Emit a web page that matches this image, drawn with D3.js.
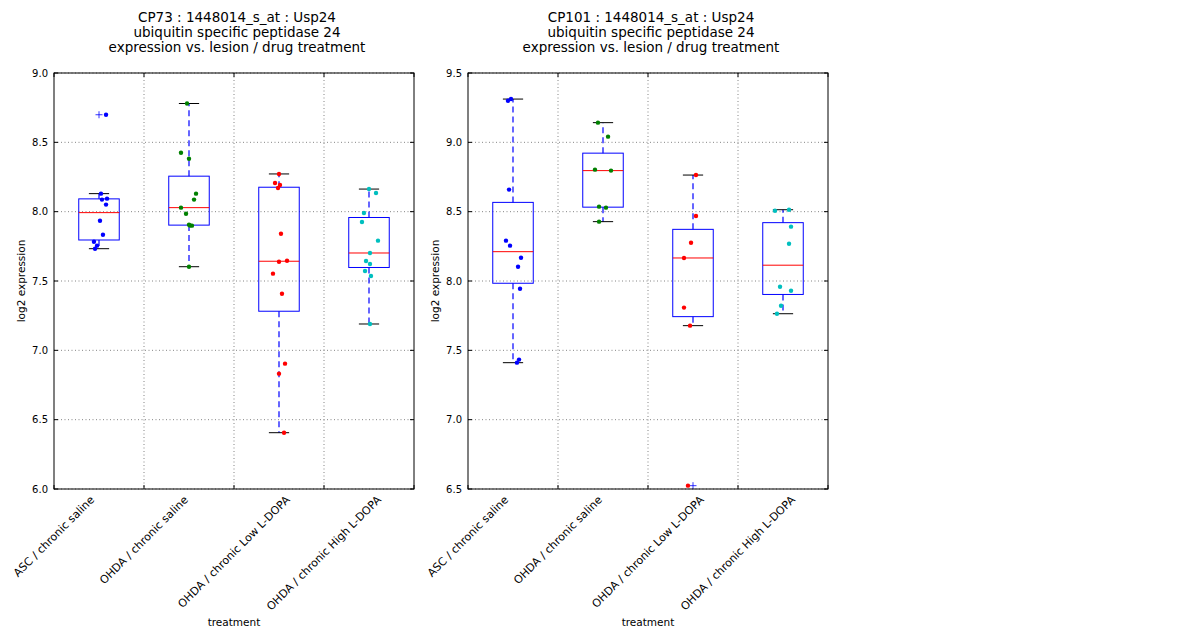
<!DOCTYPE html>
<html>
<head>
<meta charset="utf-8">
<script src="https://cdn.jsdelivr.net/npm/d3@7"></script>
<style>
  body { margin: 0; background: #fff; }
  text { font-family: "DejaVu Sans", sans-serif; }
</style>
</head>
<body>
<div id="chart"></div>
<script>
// treatment groups (x categories)
var categories = ["ASC / chronic saline", "OHDA / chronic saline",
                  "OHDA / chronic Low L-DOPA", "OHDA / chronic High L-DOPA"];
var groupColors = ["#0000ff", "#008000", "#ff0000", "#00bfbf"];

// CP73 log2 expression per group
var cp73Values = [
  [8.699, 8.130, 8.094, 8.087, 8.051, 7.935, 7.834, 7.783, 7.755, 7.733],
  [8.780, 8.425, 8.382, 8.130, 8.087, 8.029, 7.985, 7.906, 7.899, 7.900, 7.603],
  [8.272, 8.207, 8.192, 8.171, 7.841, 7.639, 7.646, 7.553, 7.408, 6.904, 6.832, 6.406],
  [8.163, 8.135, 7.990, 7.926, 7.791, 7.702, 7.644, 7.623, 7.572, 7.536, 7.190]
];
// horizontal jitter of the dots (category units)
var cp73Jitter = [
  [0.078, 0.022, 0.089, 0.033, 0.078, 0.011, 0.044, -0.056, -0.022, -0.044],
  [-0.022, -0.089, 0, 0.078, 0.056, -0.089, -0.033, 0, 0.033, 0.011, 0],
  [0, -0.044, 0.011, -0.011, 0.022, 0, 0.089, -0.067, 0.033, 0.067, 0, 0.056],
  [0, 0.078, -0.056, -0.078, 0.1, 0.011, -0.033, 0.011, -0.044, 0.022, 0.011]
];

// CP101 log2 expression per group
var cp101Values = [
  [9.300, 9.312, 8.659, 8.291, 8.255, 8.168, 8.103, 7.944, 7.433, 7.411],
  [9.142, 9.041, 8.803, 8.796, 8.536, 8.529, 8.428],
  [8.764, 8.469, 8.276, 8.166, 7.808, 7.678, 6.524],
  [8.507, 8.514, 8.392, 8.269, 7.959, 7.930, 7.822, 7.764]
];
var cp101Jitter = [
  [-0.056, -0.022, -0.044, -0.078, -0.033, 0.089, 0.056, 0.078, 0.067, 0.044],
  [-0.056, 0.056, -0.089, 0.089, -0.044, 0.033, -0.044],
  [0.033, 0.033, -0.022, -0.1, -0.1, -0.033, -0.056],
  [-0.089, 0.067, 0.089, 0.067, -0.033, 0.089, -0.022, -0.067]
];

var cp73Ticks = [6.0, 6.5, 7.0, 7.5, 8.0, 8.5, 9.0];
var cp101Ticks = [6.5, 7.0, 7.5, 8.0, 8.5, 9.0, 9.5];

var svg = d3.select("#chart").append("svg")
    .attr("width", 1200)
    .attr("height", 640);

var width = 360, height = 416;

function drawPanel(left, title, values, jitter, yTicks) {
  var g = svg.append("g")
      .attr("transform", "translate(" + left + "," + 73 + ")");

  var x = d3.scaleLinear().domain([0, 4]).range([0, width]);
  var y = d3.scaleLinear().domain([yTicks[0], yTicks[yTicks.length - 1]]).range([height, 0]);

  // grid
  g.selectAll(".gy").data(yTicks).enter().append("line")
      .attr("x1", 0).attr("x2", width)
      .attr("y1", function(d){ return y(d); })
      .attr("y2", function(d){ return y(d); })
      .attr("stroke", "#666").attr("stroke-width", 0.8)
      .attr("stroke-dasharray", "1,2.5");
  g.selectAll(".gx").data([1, 2, 3]).enter().append("line")
      .attr("x1", function(d){ return x(d); })
      .attr("x2", function(d){ return x(d); })
      .attr("y1", 0).attr("y2", height)
      .attr("stroke", "#666").attr("stroke-width", 0.8)
      .attr("stroke-dasharray", "1,2.5");

  var boxW = x(0.45) - x(0);
  var capW = boxW / 2;

  values.forEach(function(vals, i) {
    var s = vals.slice().sort(d3.ascending);
    var q1 = d3.quantile(s, 0.25), med = d3.quantile(s, 0.5), q3 = d3.quantile(s, 0.75);
    var iqr = q3 - q1;
    var hiW = d3.max(s.filter(function(v){ return v <= q3 + 1.5 * iqr; }));
    var loW = d3.min(s.filter(function(v){ return v >= q1 - 1.5 * iqr; }));
    var outliers = s.filter(function(v){ return v > hiW || v < loW; });
    var cx = x(i + 0.5);

    // whiskers
    g.append("line").attr("x1", cx).attr("x2", cx)
        .attr("y1", y(q3)).attr("y2", y(hiW))
        .attr("stroke", "#0000ff").attr("stroke-width", 1.2).attr("stroke-dasharray", "6,4");
    g.append("line").attr("x1", cx).attr("x2", cx)
        .attr("y1", y(q1)).attr("y2", y(loW))
        .attr("stroke", "#0000ff").attr("stroke-width", 1.2).attr("stroke-dasharray", "6,4");
    // caps
    [hiW, loW].forEach(function(w) {
      g.append("line").attr("x1", cx - capW / 2).attr("x2", cx + capW / 2)
          .attr("y1", y(w)).attr("y2", y(w))
          .attr("stroke", "#000");
    });
    // box
    g.append("rect")
        .attr("x", cx - boxW / 2).attr("width", boxW)
        .attr("y", y(q3)).attr("height", y(q1) - y(q3))
        .attr("fill", "none").attr("stroke", "#0000ff");
    g.append("line").attr("x1", cx - boxW / 2).attr("x2", cx + boxW / 2)
        .attr("y1", y(med)).attr("y2", y(med))
        .attr("stroke", "#ff0000");
    // outlier markers
    outliers.forEach(function(v) {
      g.append("path")
          .attr("d", "M" + (cx - 3.5) + "," + y(v) + "h7M" + cx + "," + (y(v) - 3.5) + "v7")
          .attr("stroke", "#0000ff").attr("stroke-width", 0.8);
    });
    // dots
    g.selectAll(".pt" + i).data(vals).enter().append("circle")
        .attr("cx", function(d, j){ return x(i + 0.5 + jitter[i][j]); })
        .attr("cy", function(d){ return y(d); })
        .attr("r", 2.2)
        .attr("fill", groupColors[i]);
  });

  // frame
  g.append("rect").attr("width", width).attr("height", height)
      .attr("fill", "none").attr("stroke", "#000");

  // ticks (inward, all sides)
  yTicks.forEach(function(t) {
    g.append("line").attr("x1", 0).attr("x2", 4).attr("y1", y(t)).attr("y2", y(t)).attr("stroke", "#000");
    g.append("line").attr("x1", width - 4).attr("x2", width).attr("y1", y(t)).attr("y2", y(t)).attr("stroke", "#000");
  });
  g.selectAll(".ytl").data(yTicks).enter().append("text")
      .attr("x", -6).attr("y", function(d){ return y(d); })
      .attr("dy", "0.35em")
      .attr("text-anchor", "end")
      .attr("font-size", 10)
      .text(function(d){ return d3.format(".1f")(d); });

  [0, 1, 2, 3, 4].forEach(function(t) {
    g.append("line").attr("x1", x(t)).attr("x2", x(t)).attr("y1", height).attr("y2", height - 4).attr("stroke", "#000");
    g.append("line").attr("x1", x(t)).attr("x2", x(t)).attr("y1", 0).attr("y2", 4).attr("stroke", "#000");
  });

  // rotated category labels, centred on ticks 0..3
  categories.forEach(function(c, i) {
    var t = g.append("text")
        .attr("text-anchor", "middle")
        .attr("dominant-baseline", "central")
        .attr("font-size", 11)
        .text(c);
    var len = t.node().getComputedTextLength();
    t.attr("transform", "translate(" + x(i) + "," + (height + 5 + len * 0.3536 + 4) + ") rotate(-45)");
  });

  g.append("text")
      .attr("x", width / 2).attr("y", 553)
      .attr("text-anchor", "middle").attr("font-size", 10.5)
      .text("treatment");
  g.append("text")
      .attr("transform", "translate(-29," + (height / 2) + ") rotate(-90)")
      .attr("text-anchor", "middle").attr("font-size", 10.5)
      .text("log2 expression");

  var lines = [title, "ubiquitin specific peptidase 24", "expression vs. lesion / drug treatment"];
  g.selectAll(".ttl").data(lines).enter().append("text")
      .attr("x", width / 2 + 3)
      .attr("y", function(d, k){ return -51 + k * 15; })
      .attr("text-anchor", "middle").attr("font-size", 13.5)
      .text(function(d){ return d; });
}

drawPanel(54, "CP73 : 1448014_s_at : Usp24", cp73Values, cp73Jitter, cp73Ticks);
drawPanel(468, "CP101 : 1448014_s_at : Usp24", cp101Values, cp101Jitter, cp101Ticks);
</script>
</body>
</html>
